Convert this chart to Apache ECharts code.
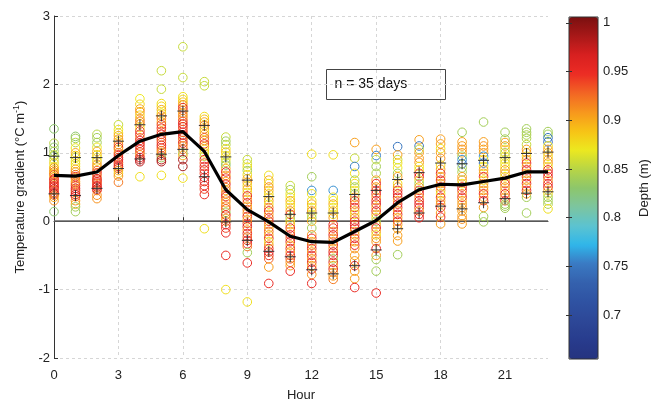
<!DOCTYPE html>
<html><head><meta charset="utf-8">
<script src="https://cdn.jsdelivr.net/npm/echarts@6/dist/echarts.min.js"></script>
<style>html,body{margin:0;padding:0;background:#fff}#c{width:655px;height:403px}</style>
</head><body><div id="c"></div>
<script>
const hours = [0,1,2,3,4,5,6,7,8,9,10,11,12,13,14,15,16,17,18,19,20,21,22,23];
const xTicks = [0,3,6,9,12,15,18,21];
const yTicks = [-2,-1,0,1,2,3];
const depthTicks = [0.7,0.75,0.8,0.85,0.9,0.95,1];
const meanGradient = [0.67,0.66,0.72,0.96,1.17,1.27,1.31,1.02,0.46,0.17,-0.01,-0.22,-0.30,-0.31,-0.15,0.01,0.27,0.46,0.54,0.53,0.58,0.63,0.72,0.72];
const upperQuartile = [0.95,0.93,0.93,1.17,1.41,1.54,1.61,1.40,0.94,0.60,0.36,0.10,0.12,0.12,0.39,0.45,0.61,0.71,0.85,0.84,0.89,0.93,0.99,1.01];
const lowerQuartile = [0.40,0.375,0.48,0.77,0.91,0.98,1.05,0.65,-0.01,-0.28,-0.44,-0.52,-0.71,-0.77,-0.65,-0.42,-0.11,0.12,0.22,0.18,0.27,0.33,0.41,0.43];
const obsGradient = [
 [1.35,1.14,1.08,1.02,0.97,0.95,0.90,0.85,0.80,0.78,0.75,0.72,0.70,0.68,0.65,0.62,0.60,0.57,0.55,0.52,0.50,0.47,0.45,0.42,0.40,0.38,0.35,0.30,0.14],
 [1.24,1.21,1.15,1.07,1.00,0.96,0.93,0.88,0.84,0.80,0.76,0.72,0.68,0.65,0.62,0.58,0.55,0.52,0.48,0.45,0.42,0.39,0.36,0.30,0.25,0.21,0.14],
 [1.27,1.22,1.15,1.08,1.02,0.97,0.93,0.88,0.83,0.79,0.74,0.70,0.66,0.62,0.60,0.57,0.55,0.52,0.50,0.47,0.45,0.38,0.33],
 [1.41,1.34,1.29,1.25,1.20,1.16,1.12,1.08,1.05,1.00,0.97,0.93,0.90,0.86,0.83,0.80,0.77,0.74,0.70,0.66,0.57],
 [1.79,1.71,1.64,1.60,1.55,1.50,1.46,1.42,1.37,1.32,1.27,1.22,1.18,1.14,1.10,1.05,1.01,0.97,0.93,0.90,0.87,0.65],
 [2.20,1.93,1.72,1.68,1.63,1.58,1.54,1.50,1.45,1.41,1.36,1.31,1.27,1.23,1.19,1.15,1.11,1.07,1.03,1.00,0.96,0.93,0.90,0.87,0.67],
 [2.55,2.10,1.82,1.78,1.74,1.70,1.66,1.62,1.58,1.54,1.50,1.46,1.42,1.38,1.34,1.30,1.26,1.22,1.18,1.14,1.10,1.05,1.00,0.96,0.90,0.80,0.63],
 [2.04,1.98,1.53,1.49,1.45,1.40,1.35,1.31,1.27,1.22,1.18,1.13,1.09,1.05,1.00,0.95,0.90,0.85,0.80,0.75,0.70,0.64,0.58,0.52,0.47,0.39,-0.11],
 [1.23,1.17,1.12,1.06,1.01,0.96,0.91,0.86,0.82,0.77,0.72,0.67,0.63,0.58,0.54,0.49,0.45,0.40,0.36,0.31,0.27,0.22,0.18,0.13,0.09,0.04,0.00,-0.05,-0.10,-0.17,-0.50,-1.00],
 [0.90,0.84,0.79,0.74,0.68,0.62,0.57,0.52,0.47,0.42,0.37,0.32,0.27,0.22,0.17,0.12,0.07,0.02,-0.03,-0.08,-0.13,-0.18,-0.23,-0.28,-0.33,-0.37,-0.46,-0.61,-1.18],
 [0.67,0.60,0.55,0.50,0.45,0.40,0.35,0.30,0.25,0.20,0.15,0.10,0.05,0.00,-0.05,-0.10,-0.15,-0.20,-0.25,-0.30,-0.35,-0.40,-0.45,-0.50,-0.55,-0.67,-0.91],
 [0.52,0.46,0.40,0.35,0.30,0.25,0.20,0.15,0.10,0.05,0.00,-0.05,-0.10,-0.15,-0.20,-0.25,-0.30,-0.35,-0.40,-0.45,-0.50,-0.55,-0.60,-0.65,-0.73],
 [0.98,0.65,0.45,0.40,0.30,0.25,0.20,0.15,0.10,0.05,0.00,-0.10,-0.20,-0.25,-0.30,-0.35,-0.40,-0.45,-0.50,-0.55,-0.60,-0.65,-0.70,-0.78,-0.91],
 [0.97,0.45,0.35,0.30,0.25,0.20,0.15,0.10,0.05,-0.05,-0.10,-0.15,-0.20,-0.25,-0.30,-0.35,-0.40,-0.45,-0.50,-0.55,-0.60,-0.65,-0.70,-0.75,-0.80,-0.85],
 [1.15,0.92,0.80,0.70,0.60,0.55,0.50,0.45,0.40,0.35,0.30,0.25,0.20,0.15,0.10,0.05,0.00,-0.05,-0.10,-0.15,-0.20,-0.25,-0.30,-0.35,-0.40,-0.50,-0.58,-0.65,-0.73,-0.84,-0.97],
 [1.05,0.96,0.90,0.80,0.70,0.60,0.55,0.50,0.45,0.40,0.35,0.30,0.25,0.20,0.15,0.10,0.05,0.00,-0.05,-0.10,-0.15,-0.20,-0.25,-0.30,-0.40,-0.50,-0.56,-0.73,-1.05],
 [1.09,0.97,0.90,0.85,0.78,0.70,0.65,0.55,0.50,0.45,0.40,0.35,0.30,0.25,0.20,0.15,0.10,0.05,0.00,-0.05,-0.11,-0.21,-0.29,-0.49],
 [1.19,1.10,1.05,1.00,0.92,0.86,0.80,0.75,0.70,0.65,0.60,0.55,0.50,0.45,0.40,0.35,0.30,0.25,0.20,0.15,0.10,0.05],
 [1.20,1.13,1.06,1.00,0.92,0.82,0.76,0.70,0.65,0.60,0.55,0.50,0.45,0.40,0.35,0.30,0.25,0.20,0.12,0.06,-0.04],
 [1.30,1.16,1.10,1.05,1.00,0.95,0.90,0.84,0.78,0.72,0.65,0.60,0.55,0.50,0.45,0.40,0.35,0.30,0.25,0.20,0.15,0.08,0.03,-0.04],
 [1.45,1.16,1.10,1.05,1.00,0.95,0.90,0.85,0.80,0.75,0.70,0.65,0.60,0.55,0.50,0.45,0.40,0.35,0.30,0.20,0.07,-0.01],
 [1.30,1.20,1.15,1.10,1.05,1.00,0.95,0.90,0.85,0.80,0.75,0.70,0.65,0.60,0.55,0.50,0.45,0.40,0.35,0.30,0.25,0.22,0.19],
 [1.35,1.30,1.26,1.21,1.12,1.05,1.00,0.95,0.90,0.85,0.80,0.75,0.70,0.65,0.60,0.55,0.50,0.45,0.40,0.35,0.12],
 [1.31,1.27,1.22,1.16,1.10,1.05,1.00,0.95,0.90,0.85,0.80,0.75,0.70,0.65,0.60,0.55,0.50,0.45,0.40,0.35,0.30,0.25,0.18]
];
const obsDepth = [
 [0.83,0.85,0.83,0.84,0.86,0.83,0.86,0.88,0.87,0.90,0.90,0.92,0.89,0.93,0.90,0.94,0.95,0.93,0.96,0.94,0.95,0.96,0.93,0.95,0.97,0.92,0.90,0.91,0.83],
 [0.83,0.84,0.85,0.87,0.90,0.89,0.86,0.87,0.88,0.87,0.90,0.91,0.93,0.95,0.92,0.90,0.91,0.94,0.96,0.95,0.93,0.97,0.95,0.91,0.90,0.84,0.84],
 [0.85,0.84,0.84,0.87,0.90,0.89,0.87,0.88,0.91,0.90,0.93,0.95,0.92,0.96,0.94,0.95,0.93,0.96,0.95,0.97,0.94,0.91,0.91],
 [0.855,0.87,0.88,0.90,0.91,0.89,0.92,0.95,0.90,0.91,0.94,0.95,0.96,0.95,0.93,0.96,0.94,0.90,0.88,0.91,0.92],
 [0.87,0.88,0.90,0.91,0.88,0.90,0.92,0.91,0.875,0.94,0.95,0.92,0.95,0.96,0.94,0.95,0.93,0.91,0.96,0.97,0.98,0.875],
 [0.855,0.855,0.875,0.88,0.90,0.875,0.91,0.92,0.90,0.94,0.95,0.93,0.96,0.91,0.95,0.93,0.96,0.94,0.92,0.90,0.93,0.835,0.98,0.985,0.875],
 [0.855,0.855,0.875,0.88,0.89,0.91,0.95,0.93,0.90,0.92,0.91,0.94,0.96,0.95,0.93,0.95,0.97,0.94,0.92,0.96,0.91,0.93,0.84,0.90,0.985,0.99,0.875],
 [0.855,0.855,0.875,0.89,0.90,0.92,0.91,0.875,0.90,0.93,0.92,0.95,0.91,0.88,0.875,0.85,0.95,0.93,0.95,0.96,0.94,0.95,0.96,0.95,0.94,0.95,0.875],
 [0.855,0.84,0.845,0.875,0.89,0.87,0.875,0.85,0.83,0.90,0.95,0.91,0.94,0.90,0.95,0.92,0.90,0.93,0.95,0.91,0.90,0.92,0.93,0.84,0.95,0.91,0.90,0.95,0.94,0.95,0.95,0.875],
 [0.855,0.86,0.875,0.84,0.875,0.90,0.91,0.875,0.90,0.88,0.95,0.91,0.94,0.90,0.92,0.91,0.95,0.90,0.94,0.96,0.91,0.95,0.93,0.96,0.95,0.92,0.84,0.95,0.875],
 [0.875,0.90,0.875,0.91,0.90,0.88,0.875,0.91,0.87,0.92,0.95,0.90,0.93,0.95,0.91,0.90,0.93,0.90,0.95,0.875,0.91,0.95,0.96,0.95,0.93,0.905,0.95],
 [0.855,0.84,0.875,0.87,0.90,0.88,0.875,0.91,0.95,0.84,0.875,0.90,0.95,0.91,0.95,0.93,0.96,0.90,0.95,0.91,0.95,0.94,0.91,0.905,0.95],
 [0.875,0.84,0.76,0.875,0.87,0.90,0.875,0.91,0.87,0.84,0.90,0.84,0.91,0.95,0.90,0.93,0.95,0.905,0.95,0.91,0.95,0.905,0.96,0.91,0.95],
 [0.875,0.76,0.875,0.87,0.90,0.875,0.89,0.875,0.905,0.95,0.94,0.91,0.95,0.92,0.905,0.95,0.91,0.96,0.95,0.84,0.95,0.905,0.96,0.91,0.905,0.92],
 [0.905,0.855,0.755,0.875,0.84,0.875,0.845,0.875,0.84,0.905,0.95,0.92,0.95,0.905,0.875,0.91,0.95,0.96,0.95,0.905,0.91,0.95,0.905,0.95,0.91,0.905,0.905,0.95,0.905,0.905,0.95],
 [0.905,0.755,0.855,0.84,0.845,0.905,0.95,0.905,0.95,0.95,0.905,0.95,0.96,0.905,0.95,0.905,0.875,0.84,0.905,0.95,0.905,0.875,0.91,0.905,0.95,0.905,0.84,0.84,0.95],
 [0.75,0.905,0.855,0.875,0.87,0.84,0.905,0.875,0.905,0.95,0.95,0.96,0.905,0.95,0.95,0.905,0.95,0.905,0.95,0.905,0.905,0.905,0.905,0.84],
 [0.905,0.75,0.855,0.905,0.905,0.91,0.875,0.875,0.95,0.95,0.875,0.84,0.905,0.95,0.95,0.905,0.95,0.96,0.95,0.905,0.95,0.95],
 [0.905,0.905,0.875,0.905,0.91,0.875,0.905,0.95,0.905,0.95,0.905,0.95,0.905,0.875,0.95,0.905,0.91,0.95,0.905,0.95,0.905],
 [0.84,0.905,0.905,0.91,0.905,0.84,0.76,0.745,0.84,0.845,0.905,0.905,0.875,0.95,0.95,0.905,0.95,0.905,0.905,0.91,0.905,0.905,0.91,0.905],
 [0.84,0.905,0.91,0.905,0.905,0.76,0.875,0.745,0.875,0.905,0.905,0.95,0.875,0.905,0.905,0.91,0.95,0.905,0.95,0.905,0.84,0.84],
 [0.84,0.84,0.905,0.905,0.875,0.845,0.875,0.875,0.875,0.875,0.905,0.905,0.875,0.905,0.95,0.905,0.905,0.95,0.905,0.95,0.84,0.84,0.84],
 [0.84,0.84,0.845,0.845,0.855,0.905,0.905,0.875,0.905,0.95,0.905,0.95,0.905,0.95,0.905,0.95,0.905,0.95,0.905,0.84,0.84],
 [0.84,0.84,0.75,0.745,0.875,0.905,0.905,0.875,0.905,0.905,0.875,0.95,0.95,0.95,0.905,0.95,0.95,0.905,0.875,0.84,0.84,0.845,0.875]
];
const depthColors = ['#25337f','#283c8d','#2d4797','#2f52a2','#3461ad','#3a79c2','#2fb6ea','#5cc3d0','#7cc5a0','#8dc66b','#b8d545','#ece81f','#f7c316','#f7961d','#f26524','#ec2c24','#d82020','#a81818','#7a1010'];

const obs = [];
hours.forEach((h, i) => obsGradient[i].forEach((g, j) => obs.push([h, g, obsDepth[i][j]])));
const meanData = hours.map((h, i) => [h, meanGradient[i]]);
const quartData = hours.map((h, i) => [h, upperQuartile[i]]).concat(hours.map((h, i) => [h, lowerQuartile[i]]));

const FONT = 'Liberation Sans, Arial, Helvetica, sans-serif';
const chart = echarts.init(document.getElementById('c'));
chart.setOption({
  animation: false,
  textStyle: { fontFamily: FONT },
  grid: [
    { left: 54, top: 16, width: 494, height: 342, outerBoundsMode: 'none', containLabel: false },
    { left: 569, top: 17, width: 29, height: 342, outerBoundsMode: 'none', containLabel: false, show: true, borderColor: '#333', borderWidth: 1, backgroundColor: 'transparent', z: 10 }
  ],
  xAxis: [
    { type: 'value', min: 0, max: 23, interval: 3, name: 'Hour', nameLocation: 'middle', nameGap: 31,
      nameTextStyle: { fontSize: 13, color: '#222', fontFamily: FONT },
      axisLine: { lineStyle: { color: '#333', width: 1 } },
      axisTick: { inside: true, length: 4, customValues: xTicks, lineStyle: { color: '#333' } },
      axisLabel: { customValues: xTicks, fontSize: 13, color: '#222', margin: 11 },
      splitLine: { show: true, showMaxLine: false, lineStyle: { color: '#d6d6d6', type: [3, 3] } } },
    { gridIndex: 1, type: 'value', show: false, min: 0, max: 1 }
  ],
  yAxis: [
    { type: 'value', min: -2, max: 3, interval: 1,
      name: 'Temperature gradient (°C m{s|-1})', nameLocation: 'middle', nameGap: 26,
      nameTextStyle: { fontSize: 13, color: '#222', fontFamily: FONT,
        rich: { s: { fontSize: 9, color: '#222', fontFamily: FONT, padding: [0, 0, 7, 0] } } },
      axisLine: { show: true, lineStyle: { color: '#333', width: 1 } },
      axisTick: { show: true, inside: true, length: 4, lineStyle: { color: '#333' } },
      axisLabel: { fontSize: 13, color: '#222', margin: 4, formatter: v => yTicks.includes(v) ? String(v) : '' },
      splitLine: { show: true, lineStyle: { color: '#d6d6d6', type: [3, 3] } } },
    { gridIndex: 1, type: 'value', min: 0.655, max: 1.006, position: 'right', z: 12,
      name: 'Depth (m)', nameLocation: 'middle', nameGap: 40, nameRotate: 90,
      nameTextStyle: { fontSize: 13, color: '#222', fontFamily: FONT },
      axisLine: { show: false },
      axisTick: { show: true, inside: true, length: 3, customValues: depthTicks, lineStyle: { color: '#333' } },
      axisLabel: { show: true, customValues: depthTicks, fontSize: 13, color: '#222', margin: 5 },
      splitLine: { show: false } },
    { gridIndex: 1, type: 'value', min: 0.655, max: 1.006, position: 'left', z: 12,
      axisLine: { show: false },
      axisTick: { show: true, inside: true, length: 3, customValues: depthTicks, lineStyle: { color: '#333' } },
      axisLabel: { show: false }, splitLine: { show: false } }
  ],
  visualMap: {
    type: 'continuous', min: 0.655, max: 1.006, dimension: 2, seriesIndex: 0,
    left: 569, top: 17, itemWidth: 29, itemHeight: 342, padding: 0,
    calculable: false, hoverLink: false, text: null, showLabel: false,
    inRange: { color: depthColors }
  },
  series: [
    { type: 'custom', xAxisIndex: 0, yAxisIndex: 0, data: obs, encode: { x: 0, y: 1 }, z: 2,
      renderItem: function (params, api) {
        const p = api.coord([api.value(0), api.value(1)]);
        return { type: 'circle', shape: { cx: p[0], cy: p[1], r: 4.3 },
          style: { fill: 'none', stroke: api.visual('color'), lineWidth: 1 } };
      } },
    { type: 'line', xAxisIndex: 0, yAxisIndex: 0, data: meanData, symbol: 'none', z: 4,
      lineStyle: { color: '#000', width: 3.2 },
      markLine: { silent: true, symbol: 'none', label: { show: false },
        lineStyle: { color: '#666', width: 1.5, type: 'solid' }, data: [{ yAxis: 0 }], z: 1 } },
    { type: 'custom', xAxisIndex: 0, yAxisIndex: 0, data: quartData, encode: { x: 0, y: 1 }, z: 5,
      renderItem: function (params, api) {
        const p = api.coord([api.value(0), api.value(1)]);
        const h = 5.5;
        return { type: 'group', children: [
          { type: 'line', shape: { x1: p[0] - h, y1: p[1], x2: p[0] + h, y2: p[1] }, style: { stroke: '#333', lineWidth: 1 } },
          { type: 'line', shape: { x1: p[0], y1: p[1] - h, x2: p[0], y2: p[1] + h }, style: { stroke: '#333', lineWidth: 1 } }
        ] };
      } }
  ],
  graphic: [
    { type: 'group', left: 326, top: 69, z: 20, children: [
      { type: 'rect', shape: { x: 0, y: 0, width: 119, height: 30 }, style: { fill: '#fff', stroke: '#444', lineWidth: 1 } },
      { type: 'text', x: 8, y: 15, style: { text: 'n = 35 days', fontSize: 14, fill: '#111', fontFamily: FONT, verticalAlign: 'middle' } }
    ] }
  ]
});
</script>
</body></html>
